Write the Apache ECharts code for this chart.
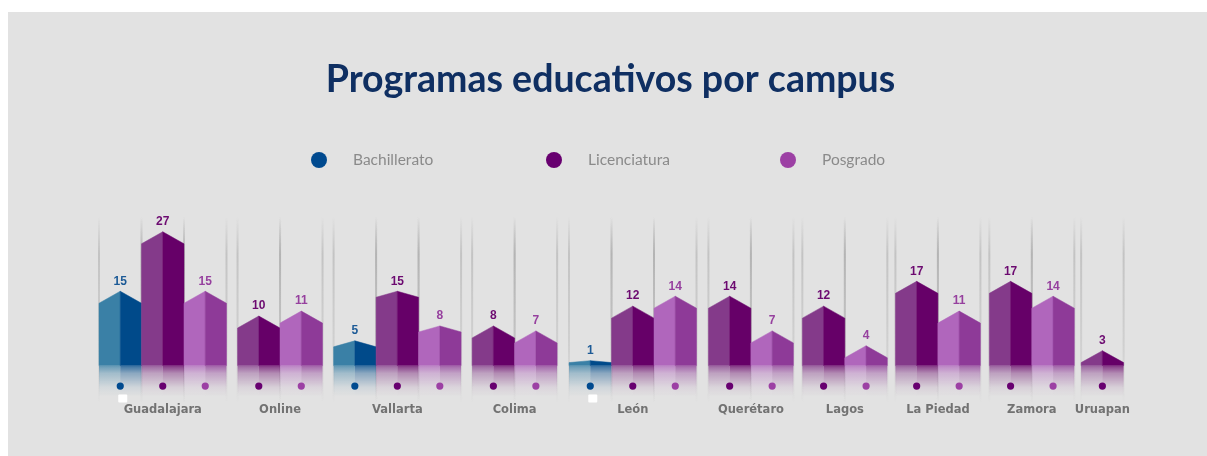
<!DOCTYPE html>
<html>
<head>
<meta charset="utf-8">
<title>Programas educativos por campus</title>
<script src="https://cdn.jsdelivr.net/npm/echarts@6/dist/echarts.min.js"></script>
<style>
  html, body { margin: 0; height: 100%; background: #fff; }
  .panel { position: absolute; left: 8px; top: 12px; right: 0; bottom: 0; background: #e2e2e2; }
  #chart { position: absolute; left: 0; top: 0; width: 1207px; height: 456px; }
</style>
</head>
<body>
<div class="panel"></div>
<div id="chart"></div>
<script>
const campuses = ['Guadalajara', 'Online', 'Vallarta', 'Colima', 'León', 'Querétaro', 'Lagos', 'La Piedad', 'Zamora', 'Uruapan']
const bachillerato = [15, null, 5, null, 1, null, null, null, null, null]
const licenciatura = [27, 10, 15, 8, 12, 14, 12, 17, 17, 3]
const posgrado = [15, 11, 8, 7, 14, 7, 4, 11, 14, null]

// layout: gap in front of each campus, in bar widths, and how tall the roof is in px
const groupGaps = [0, 0.26, 0.26, 0.26, 0.28, 0.28, 0.21, 0.19, 0.21, 0.16]
const roofPx = [12, 12, 6, 12, 12, 12, 12, 12, 12, 14]
const legendLeft = [306, 541, 775]
const whiteMarks = ['Guadalajara', 'León'] // the small white squares under two Bachillerato bars

const levels = [
  { name: 'Bachillerato', values: bachillerato, legend: '#004a8f', left: '#3a80a6', right: '#004a8a', label: '#1c5a96' },
  { name: 'Licenciatura', values: licenciatura, legend: '#680070', left: '#843a8a', right: '#660068', label: '#6c0a70' },
  { name: 'Posgrado', values: posgrado, legend: '#9c40a4', left: '#b066bc', right: '#8e3a98', label: '#96409e' },
]

// walk the campuses and give every bar its slot on the x axis
const barData = levels.map(() => [])
const edges = []
const labelData = []
let slot = 0
campuses.forEach((campus, c) => {
  slot += groupGaps[c]
  const start = slot
  levels.forEach((level, l) => {
    if (level.values[c] == null) return
    barData[l].push([slot + 0.5, level.values[c], c])
    edges.push([slot, 0], [slot + 1, 0])
    slot += 1
  })
  labelData.push([(start + slot) / 2, c])
})

const faded = (color, stops) =>
  new echarts.graphic.LinearGradient(0, 0, 0, 1, stops.map(([offset, alpha]) => ({
    offset,
    color: echarts.color.modifyAlpha(color, alpha),
  })))

const renderBar = (level) => (params, api) => {
  const x = api.value(0)
  const value = api.value(1)
  const campusIndex = api.value(2)
  const [cx, top] = api.coord([x, value])
  const baseY = api.coord([x, 0])[1]
  const half = api.size([1, 0])[0] / 2
  const shoulder = Math.min(baseY - 3, top + roofPx[campusIndex])
  const reflect = 31
  const mirrorStops = [[0, 0.75], [0.25, 0.38], [0.7, 0.08], [1, 0]]

  const children = [
    {
      type: 'polygon',
      shape: { points: [[cx - half, baseY], [cx - half, shoulder], [cx, top], [cx, baseY]] },
      style: { fill: level.left, stroke: level.left, lineWidth: 0.5 },
    },
    {
      type: 'polygon',
      shape: { points: [[cx, baseY], [cx, top], [cx + half, shoulder], [cx + half, baseY]] },
      style: { fill: level.right, stroke: level.right, lineWidth: 0.5 },
    },
    {
      type: 'rect',
      shape: { x: cx - half, y: baseY, width: half, height: reflect },
      style: { fill: faded(level.left, mirrorStops) },
    },
    {
      type: 'rect',
      shape: { x: cx, y: baseY, width: half, height: reflect },
      style: { fill: faded(level.right, mirrorStops) },
    },
    {
      type: 'circle',
      shape: { cx, cy: baseY + 20.5, r: 3.6 },
      style: { fill: level.legend },
    },
    {
      type: 'text',
      style: {
        x: cx,
        y: top - 10,
        text: String(value),
        align: 'center',
        verticalAlign: 'middle',
        fill: level.label,
        font: 'bold 12px "Liberation Sans", Arial, sans-serif',
      },
    },
  ]
  if (level.name === 'Bachillerato' && whiteMarks.includes(campuses[campusIndex])) {
    children.push({
      type: 'rect',
      shape: { x: cx - 2, y: baseY + 29, width: 9, height: 8, r: 1 },
      style: { fill: '#ffffff' },
    })
  }
  return { type: 'group', children }
}

const renderEdge = (params, api) => {
  const x = api.value(0)
  const [px, y1] = api.coord([x, 30])
  const y2 = api.coord([x, -7.5])[1]
  return {
    type: 'rect',
    shape: { x: px - 1, y: y1, width: 2, height: y2 - y1 },
    style: {
      fill: new echarts.graphic.LinearGradient(0, 0, 0, 1, [
        { offset: 0, color: 'rgba(165,165,165,0)' },
        { offset: 0.2, color: 'rgba(165,165,165,0.5)' },
        { offset: 0.7, color: 'rgba(175,175,175,0.35)' },
        { offset: 1, color: 'rgba(175,175,175,0)' },
      ]),
    },
  }
}

const renderCampus = (params, api) => {
  const [cx, baseY] = api.coord([api.value(0), 0])
  return {
    type: 'text',
    style: {
      x: cx,
      y: baseY + 44,
      text: campuses[api.value(1)],
      align: 'center',
      verticalAlign: 'middle',
      fill: '#727272',
      font: 'bold 11.5px "DejaVu Sans", sans-serif',
    },
  }
}

const chart = echarts.init(document.getElementById('chart'))
chart.setOption({
  animation: false,
  title: {
    text: 'Programas educativos por campus',
    left: 605.5,
    top: 56,
    textAlign: 'center',
    textStyle: { color: '#0f2f62', fontSize: 37.5, fontWeight: 'bold', fontFamily: 'Lato' },
  },
  legend: levels.map((level, l) => ({
    left: legendLeft[l],
    top: 147,
    icon: 'circle',
    itemWidth: 16,
    itemHeight: 16,
    selectedMode: false,
    data: [level.name],
    textStyle: {
      color: '#8a8a8a',
      fontSize: 15.5,
      fontFamily: 'Lato',
      padding: [0, 0, 0, 21],
    },
  })),
  grid: { left: 90.5, top: 207, width: 1039.5, height: 228 },
  xAxis: { type: 'value', min: -0.2, max: 24.26, show: false },
  yAxis: { type: 'value', min: -14, max: 32, show: false },
  series: [
    { type: 'custom', name: 'lines', silent: true, z: 1, data: edges, renderItem: renderEdge, clip: true },
    ...levels.map((level, l) => ({
      type: 'custom',
      name: level.name,
      z: 2,
      itemStyle: { color: level.legend },
      data: barData[l],
      encode: { x: 0, y: 1 },
      renderItem: renderBar(level),
      clip: false,
    })),
    { type: 'custom', name: 'campus', silent: true, z: 3, data: labelData, renderItem: renderCampus, clip: true },
  ],
})
</script>
</body>
</html>
